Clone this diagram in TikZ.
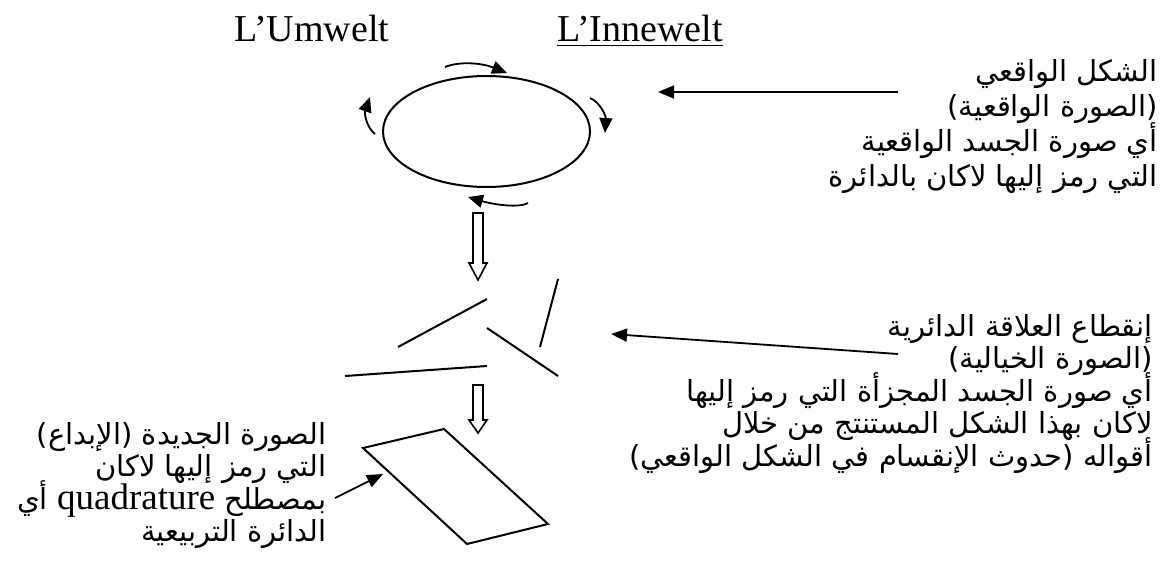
\documentclass[tikz,border=0pt]{standalone}
\usepackage{fontspec}
\setmainfont{Liberation Serif}
\newfontfamily\arabicfont[Script=Arabic]{DejaVu Sans}
\TeXXeTstate=1
\usetikzlibrary{arrows.meta,shapes.geometric}

\newcommand{\arabsize}[1]{\fontsize{14.5pt}{#1}\selectfont\lineskiplimit=-50pt\relax\lineskip=0pt\relax}
\newcommand{\latinword}[1]{{\fontsize{18.5pt}{16pt}\selectfont\rmfamily #1}}
\tikzset{
    worldtitle/.style={anchor=base west, inner sep=0pt, font=\fontsize{19pt}{20pt}\selectfont},
    arabtext/.style={anchor=north east, inner sep=0pt, align=right, font=\arabicfont\arabsize{#1}},
    arabtext/.default=16.25pt,
    pointer/.style={line width=0.9pt, -{Triangle[length=8pt,width=6.5pt]}},
    turn/.style={line width=0.9pt, -{Triangle[length=7.5pt,width=6.5pt]}},
    hollow/.style={draw, line width=0.8pt},
    piece/.style={line width=1pt}
}

\begin{document}
\begin{tikzpicture}[x=0.5pt, y=-0.5pt]
\fill[white] (0,0) rectangle (1165,577);
\useasboundingbox (0,0) rectangle (1165,577);

% ===== titles =====
\node[worldtitle] (umwelt) at (234,42) {L’Umwelt};
\node[worldtitle] (innewelt) at (557,42) {\underline{L’Innewelt}};

% ===== the circle and its turning arrows =====
\node[ellipse, draw, line width=1pt, minimum width=103.5pt, minimum height=55.5pt, inner sep=0pt] (cycle) at (486.5,131.5) {};
\draw[turn] (445,67) .. controls (460,61) and (482,63) .. (507,73);
\draw[turn] (590,98) .. controls (600,102) and (606,116) .. (605,133);
\draw[turn] (528,203) .. controls (520,208) and (495,205) .. (468,197);
\draw[turn] (375,134) .. controls (367,128) and (364,114) .. (370,97);

% ===== hollow arrows down =====
\draw[hollow] (473,213) -- (483,213) -- (483,263) -- (487,263) -- (478,280) -- (469,263) -- (473,263) -- cycle;
\draw[hollow] (473,385) -- (483,385) -- (483,420) -- (487,420) -- (478,433) -- (469,420) -- (473,420) -- cycle;

% ===== broken circle =====
\draw[piece] (398,347) -- (487,299);
\draw[piece] (487,328) -- (558,376);
\draw[piece] (540,347) -- (558,279);
\draw[piece] (345,376) -- (487,366);

% ===== the new square =====
\draw[piece] (363,448) -- (444,429) -- (548,524) -- (467,544) -- cycle;

% ===== texts =====
\node[arabtext=17.5pt] (realform) at (1158,59) {\beginR الشكل الواقعي\endR\\
    \beginR (الصورة الواقعية)\endR\\
    \beginR أي صورة الجسد الواقعية\endR\\
    \beginR التي رمز إليها لاكان بالدائرة\endR};
\node[arabtext] (brokenform) at (1153,314) {\beginR إنقطاع العلاقة الدائرية\endR\\
    \beginR (الصورة الخيالية)\endR\\
    \beginR أي صورة الجسد المجزأة التي رمز إليها\endR\\
    \beginR لاكان بهذا الشكل المستنتج من خلال\endR\\
    \beginR أقواله (حدوث الإنقسام في الشكل الواقعي)\endR};
\node[arabtext] (newform) at (327,422) {\beginR الصورة الجديدة (الإبداع)\endR\\
    \beginR التي رمز إليها لاكان\endR\\
    \beginR بمصطلح \beginL\latinword{quadrature}\endL{} أي\endR\\
    \beginR الدائرة التربيعية\endR};

% ===== pointers =====
\coordinate (realtail) at (898,92);
\coordinate (realtip) at (658,92);
\coordinate (brokentail) at (898,354);
\coordinate (brokentip) at (611,334);
\coordinate (newtail) at (335,498);
\coordinate (newtip) at (383,474);
\draw[pointer] (realtail) -- (realtip);
\draw[pointer] (brokentail) -- (brokentip);
\draw[pointer] (newtail) -- (newtip);

\end{tikzpicture}
\end{document}
